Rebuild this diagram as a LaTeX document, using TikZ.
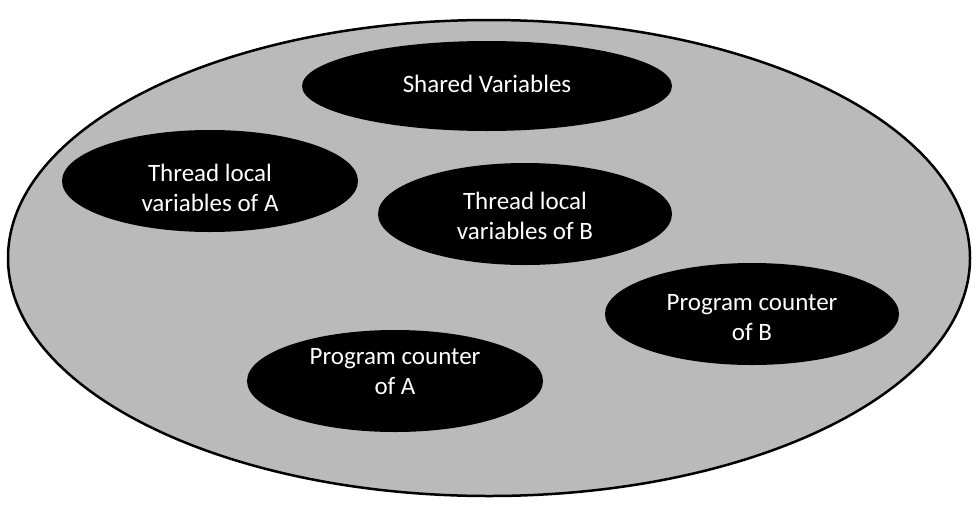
\documentclass[tikz,border=0pt]{standalone}
\usepackage{fontspec}
\setmainfont{Carlito}
\usetikzlibrary{shapes.geometric}
\definecolor{bggray}{RGB}{186,186,186}
\begin{document}
\begin{tikzpicture}[x=1pt,y=-1pt,
  inner/.style={fill=black,text=white,align=center,font=\fontsize{25}{30}\selectfont},
  outer/.style={fill=bggray,draw=black,line width=2.5pt}]
\useasboundingbox (0,0) rectangle (977,509);
\draw[outer] (489,258) ellipse [x radius=481, y radius=238];
\node[coordinate] (c) at (489,258) {};
\fill[inner] (487,86) ellipse [x radius=185, y radius=45];
\node[inner] (sv) at (487,84) {Shared Variables};
\fill[inner] (210,181) ellipse [x radius=148, y radius=51];
\node[inner] (ta) at (210,188) {Thread local\\variables of A};
\fill[inner] (525,214) ellipse [x radius=147, y radius=51];
\node[inner] (tb) at (525,216) {Thread local\\variables of B};
\fill[inner] (752,314) ellipse [x radius=147, y radius=51];
\node[inner] (pb) at (752,318) {Program counter\\of B};
\fill[inner] (395,381) ellipse [x radius=148, y radius=51];
\node[inner] (pa) at (395,372) {Program counter\\of A};
\end{tikzpicture}
\end{document}
